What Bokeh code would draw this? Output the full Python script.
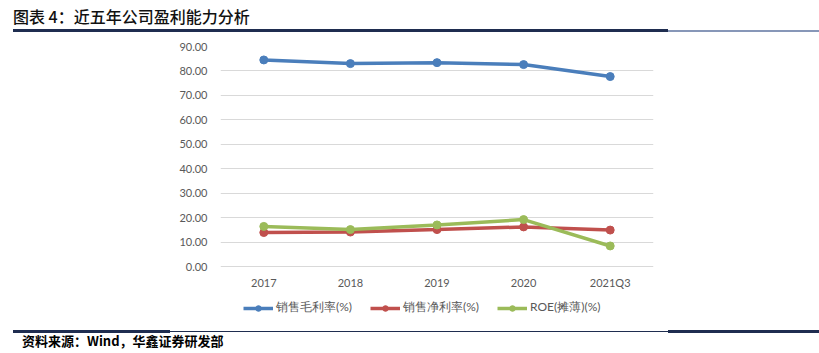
from bokeh.plotting import figure
from bokeh.models import FactorRange, Range1d, Legend, LegendItem, NumeralTickFormatter, Div
from bokeh.layouts import column
from bokeh.embed import file_html
from bokeh.resources import INLINE

categories = ["2017", "2018", "2019", "2020", "2021Q3"]
gross_margin = [84.5, 83.0, 83.4, 82.6, 77.7]
net_margin = [13.9, 14.1, 15.1, 16.2, 14.9]
roe_diluted = [16.4, 15.1, 17.0, 19.2, 8.4]
series_names = ["销售毛利率(%)", "销售净利率(%)", "ROE(摊薄)(%)"]
colors = ["#4A7EBB", "#C0504D", "#9BBB59"]
y_ticks = [0, 10, 20, 30, 40, 50, 60, 70, 80, 90]
title_text = "图表 4：近五年公司盈利能力分析"
source_text = "资料来源：Wind，华鑫证券研发部"

W = 819
LABEL_FONT = "Lato"
TOP_H, MAIN_H = 33, 297
FOOT_H = 353 - TOP_H - MAIN_H
PX_PER_UNIT = 220 / 90.0          # 90 at y=46, 0 at y=266 (page pixels)
FRAME_BOTTOM = 316                # frame extends down to hold the legend row
Y_START = -(FRAME_BOTTOM - 266) / PX_PER_UNIT

head = Div(width=W, height=TOP_H, margin=0, text=f"""
<div style="position:relative;width:{W}px;height:{TOP_H}px;overflow:hidden;">
  <div style="position:absolute;left:13px;top:5px;font-family:'Noto Sans CJK SC';font-size:16px;font-weight:500;line-height:22px;color:#111;white-space:nowrap;">{title_text}</div>
  <div style="position:absolute;left:13px;top:29px;width:655px;height:3px;background:#1F2D50;"></div>
  <div style="position:absolute;left:668px;top:30px;width:151px;height:2px;background:#8797B8;"></div>
</div>""")

foot = Div(width=W, height=FOOT_H, margin=0, text=f"""
<div style="position:relative;width:{W}px;height:{FOOT_H}px;overflow:hidden;">
  <div style="position:absolute;left:13px;top:0px;width:157px;height:3px;background:#1F2D50;"></div>
  <div style="position:absolute;left:170px;top:1px;width:498px;height:1px;background:#1F2D50;"></div>
  <div style="position:absolute;left:668px;top:0px;width:151px;height:3px;background:#1F2D50;"></div>
  <div style="position:absolute;left:22px;top:2px;font-family:'Noto Sans CJK SC';font-size:13px;font-weight:bold;line-height:18px;color:#000;white-space:nowrap;">{source_text}</div>
</div>""")

p = figure(width=W, height=MAIN_H, x_range=FactorRange(*categories),
           y_range=Range1d(Y_START, 90),
           output_backend="svg", toolbar_location=None,
           min_border_left=220, min_border_right=W - 653, min_border_top=46 - TOP_H,
           min_border_bottom=TOP_H + MAIN_H - FRAME_BOTTOM)
p.outline_line_color = None
p.xgrid.visible = False
p.ygrid.grid_line_color = "#D9D9D9"
p.ygrid.grid_line_width = 1
p.yaxis.ticker = y_ticks
p.yaxis.formatter = NumeralTickFormatter(format="0.00")
for ax in (p.xaxis[0], p.yaxis[0]):
    ax.axis_line_color = None
    ax.major_tick_line_color = None
    ax.minor_tick_line_color = None
    ax.major_tick_out = 0
    ax.major_tick_in = 0
    ax.minor_tick_out = 0
    ax.major_label_text_font = LABEL_FONT
    ax.major_label_text_font_size = "11px"
    ax.major_label_text_color = "#595959"
p.yaxis.major_label_standoff = 13
# x labels sit just under the zero line, inside the extended frame
p.xaxis.fixed_location = -(275 - 266) / PX_PER_UNIT
p.xaxis.major_label_standoff = 0

items = []
for name, vals, c in zip(series_names, [gross_margin, net_margin, roe_diluted], colors):
    l = p.line(x=categories, y=vals, line_color=c, line_width=3.5)
    s = p.scatter(x=categories, y=vals, size=8, fill_color=c, line_color=c)
    items.append(LegendItem(label=name, renderers=[l, s]))

legend = Legend(items=items, orientation="horizontal", location=(23, 0),
                label_text_font=LABEL_FONT, label_text_font_size="12px",
                label_text_color="#595959", border_line_color=None,
                background_fill_alpha=0, glyph_width=30, glyph_height=14, spacing=18,
                label_standoff=3, padding=0, margin=0, label_height=14)
p.add_layout(legend, "center")

layout = column(head, p, foot, spacing=0, width=W)
open("out.html", "w").write(file_html(layout, INLINE))
